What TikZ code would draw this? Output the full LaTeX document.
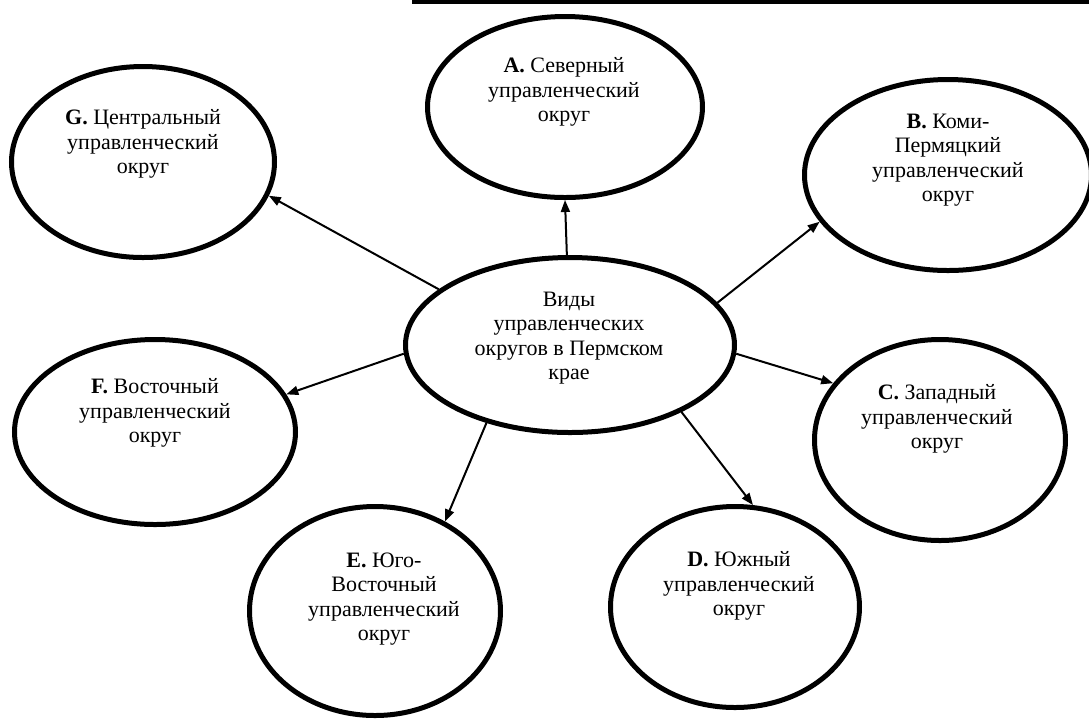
\documentclass[tikz,border=0pt]{standalone}
\usepackage{fontspec}
\setmainfont{Liberation Serif}
\usetikzlibrary{shapes.geometric,arrows.meta}

\begin{document}
\begin{tikzpicture}
        [x=0.5pt, y=-0.5pt,
        okrug/.style={ellipse, draw, line width=2.5pt, inner sep=0pt},
        txt/.style={align=center, inner sep=0pt, font=\fontsize{11}{12.25}\selectfont},
        arrow/.style={line width=1pt, -{Triangle[length=6pt, width=4.5pt]}}]
        \useasboundingbox (0,0) rectangle (1089,720);
        \fill (412,0) rectangle (1089,4);

        \node[okrug, minimum width=164.5pt, minimum height=87.5pt] (M) at (570,345) {};
        \node[okrug, minimum width=137.5pt, minimum height=90.5pt] (A) at (565,107) {};
        \node[okrug, minimum width=143.5pt, minimum height=95.5pt] (B) at (948,175) {};
        \node[okrug, minimum width=125.5pt, minimum height=100.5pt] (C) at (940,440) {};
        \node[okrug, minimum width=124.5pt, minimum height=100.5pt] (D) at (735,607) {};
        \node[okrug, minimum width=125.5pt, minimum height=104.5pt] (E) at (375,611) {};
        \node[okrug, minimum width=140.5pt, minimum height=92.5pt] (F) at (155,432) {};
        \node[okrug, minimum width=131.5pt, minimum height=95.5pt] (G) at (143,162) {};

        \node[txt] (Mt) at (569,338) {Виды\\управленческих\\округов в Пермском\\крае};
        \node[txt] (At) at (564,92) {\textbf{A.} Северный\\управленческий\\округ};
        \node[txt] (Bt) at (948,160) {\textbf{B.} Коми-\\Пермяцкий\\управленческий\\округ};
        \node[txt] (Ct) at (937,419) {\textbf{C.} Западный\\управленческий\\округ};
        \node[txt] (Dt) at (739,586) {\textbf{D.} Южный\\управленческий\\округ};
        \node[txt] (Et) at (384,599) {\textbf{E.} Юго-\\Восточный\\управленческий\\округ};
        \node[txt] (Ft) at (155,413) {\textbf{F.} Восточный\\управленческий\\округ};
        \node[txt] (Gt) at (143,144) {\textbf{G.} Центральный\\управленческий\\округ};

        \draw[arrow] (M.92) -- (A.-90);
        \draw[arrow] (M.16) -- (B.200);
        \draw[arrow] (M.-3) -- (C.152);
        \draw[arrow] (M.-31) -- (D.80);
        \draw[arrow] (M.-137) -- (E.52);
        \draw[arrow] (M.183) -- (F.16);
        \draw[arrow] (M.157) -- (G.-15);
    \end{tikzpicture}
\end{document}
